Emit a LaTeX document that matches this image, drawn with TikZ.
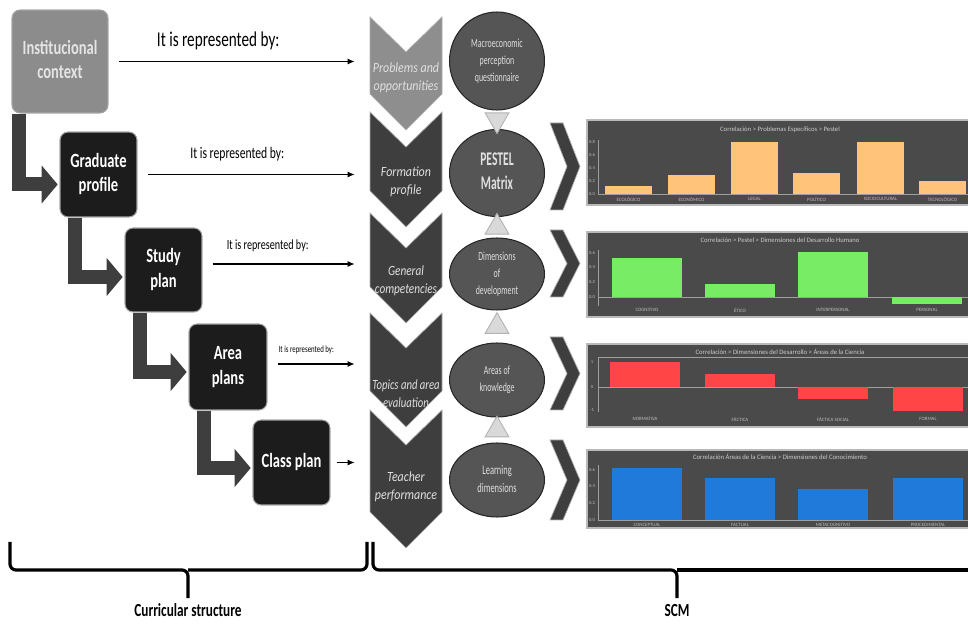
\documentclass[tikz,border=0pt]{standalone}
\usepackage{fontspec}
\setmainfont{Carlito}
\usepackage{graphicx}
\usetikzlibrary{shapes.geometric, arrows.meta, positioning, calc}
\tikzset{>={Stealth}}

\definecolor{boxdark}{HTML}{1C1C1C}
\definecolor{boxgray}{HTML}{8C8C8C}
\definecolor{chevdark}{HTML}{3E3E3E}
\definecolor{chevlight}{HTML}{8E8E8E}
\definecolor{ellfill}{HTML}{555555}
\definecolor{chartbg}{HTML}{4A4A4A}
\definecolor{barorange}{HTML}{FFC47A}
\definecolor{bargreen}{HTML}{79EC66}
\definecolor{barred}{HTML}{FF4545}
\definecolor{barblue}{HTML}{1F7AD9}

% squeezed text, the original lettering is very narrow
\newcommand{\condtext}[2][.72]{\scalebox{#1}[1]{\begin{tabular}{@{}c@{}}#2\end{tabular}}}

\begin{document}
\begin{tikzpicture}[
  x=0.02cm, y=-0.02cm,
  box/.style={rectangle, rounded corners=0.16cm, fill=boxdark, draw=gray!70, line width=0.6pt,
    text=white, inner sep=0pt, font=\fontsize{11.5}{14}\selectfont\bfseries},
  chevtext/.style={minimum width=1.44cm, inner sep=0pt, text=white!88!black,
    font=\fontsize{8}{10.5}\selectfont\itshape},
  ell/.style={ellipse, fill=ellfill, draw=black!85, line width=0.6pt, minimum width=1.9cm,
    inner sep=0pt, text=white!88!black, font=\fontsize{7}{9.5}\selectfont},
  repr/.style={->, >={Latex[length=4pt,width=3.5pt]}, line width=0.7pt, shorten <=0.2cm, shorten >=0.3cm},
  reprlabel/.style={inner sep=0pt},
  larrow/.style={-{Triangle[length=0.32cm,width=0.74cm]}, line width=0.28cm, draw=chevdark, shorten >=1pt},
  link/.style={regular polygon, regular polygon sides=3, minimum size=0.55cm, inner sep=0pt,
    fill=gray!30, draw=gray!60, line width=0.5pt},
  chartbox/.style={fill=chartbg, draw=gray!55, line width=1pt},
  axisline/.style={draw=gray!75, line width=0.3pt},
  charttitle/.style={inner sep=0pt, text=white!80!black, font=\fontsize{3.8}{4}\selectfont},
  catlabel/.style={inner sep=0pt, text=white!75!black, font=\fontsize{2.8}{3}\selectfont},
  ticklabel/.style={inner sep=0pt, text=white!75!black, font=\fontsize{2.6}{3}\selectfont},
  bracket/.style={line width=1.8pt, rounded corners=0.12cm},
  bottomlabel/.style={inner sep=0pt, font=\fontsize{10.5}{12}\selectfont\bfseries}
]
  \useasboundingbox (0,0) rectangle (968,628);

  % Curricular structure boxes
  \node[box, fill=boxgray, text=white!90!black, minimum width=1.92cm, minimum height=2.06cm] (inst) at (60,61.5) {\condtext{Institucional\\context}};
  \node[box, minimum width=1.54cm, minimum height=1.7cm] (grad) at (98.5,174.5) {\condtext{Graduate\\profile}};
  \node[box, minimum width=1.54cm, minimum height=1.68cm] (study) at (163.5,270) {\condtext{Study\\plan}};
  \node[box, minimum width=1.56cm, minimum height=1.72cm] (area) at (228,367) {\condtext{Area\\plans}};
  \node[box, minimum width=1.54cm, minimum height=1.7cm] (class) at (291.5,462.5) {\condtext{Class plan}};

  % L-shaped arrows down the staircase
  \draw[larrow] ([xshift=0.16cm]inst.south west) |- ([yshift=-0.2cm]grad.west);
  \draw[larrow] ([xshift=0.31cm]grad.south west) |- ([yshift=-0.14cm]study.west);
  \draw[larrow] ([xshift=0.31cm]study.south west) |- ([yshift=-0.1cm]area.west);
  \draw[larrow] ([xshift=0.31cm]area.south west) |- ([yshift=-0.11cm]class.west);

  % Down chevrons
  \foreach \t/\b/\c in {17/130/chevlight, 112/227/chevdark, 213/323/chevdark, 313/427/chevdark, 410/548/chevdark}
    \filldraw[fill=\c, draw=gray!65, line width=0.4pt] (370,\t) -- (406,\t+35) -- (442,\t) -- (442,\b-36) -- (406,\b) -- (370,\b-36) -- cycle;
  \node[chevtext] (chev1) at (406,78) {\condtext[.85]{Problems and\\opportunities}};
  \node[chevtext] (chev2) at (406,182) {\condtext[.85]{Formation\\profile}};
  \node[chevtext] (chev3) at (406,281) {\condtext[.8]{General\\competencies}};
  \node[chevtext] (chev4) at (406,395) {\condtext[.76]{Topics and area\\evaluation}};
  \node[chevtext] (chev5) at (406,487) {\condtext[.85]{Teacher\\performance}};

  % It is represented by
  \draw[repr] (inst.east) -- node[reprlabel, pos=0.42, above=0.14cm, font=\fontsize{12}{14}\selectfont] (rep1) {\condtext{It is represented by:}} (inst.east -| chev1.west);
  \draw[repr] (grad.east) -- node[reprlabel, pos=0.43, above=0.2cm, font=\fontsize{9.2}{11}\selectfont] (rep2) {\condtext{It is represented by:}} (grad.east -| chev2.west);
  \draw[repr] ([yshift=0.12cm]study.east) -- node[reprlabel, pos=0.39, above=0.18cm, font=\fontsize{8}{10}\selectfont] (rep3) {\condtext{It is represented by:}} ([yshift=0.12cm]study.east -| chev3.west);
  \draw[repr] ([yshift=0.06cm]area.east) -- node[reprlabel, pos=0.38, above=0.16cm, font=\fontsize{5.4}{6}\selectfont] (rep4) {\condtext{It is represented by:}} ([yshift=0.06cm]area.east -| chev4.west);
  \draw[repr, shorten <=0.12cm] (class.east) -- (class.east -| chev5.west);

  % SCM ellipses
  \node[ell, minimum height=1.96cm] (ell1) at (497,61) {\condtext[.64]{Macroeconomic\\perception\\questionnaire}};
  \node[ell, minimum height=1.74cm, font=\fontsize{11}{13.5}\selectfont\bfseries] (ell2) at (497,173) {\condtext[.6]{PESTEL\\Matrix}};
  \node[ell, minimum height=1.44cm] (ell3) at (497,274) {\condtext[.64]{Dimensions\\of\\development}};
  \node[ell, minimum height=1.48cm] (ell4) at (497,380) {\condtext[.64]{Areas of\\knowledge}};
  \node[ell, minimum height=1.48cm, font=\fontsize{7.5}{10}\selectfont] (ell5) at (497,480) {\condtext[.64]{Learning\\dimensions}};

  % Links between ellipses
  \node[link, rotate=180] (lk1) at ($(ell1.south)!0.5!(ell2.north)$) {};
  \node[link] (lk2) at ($(ell2.south)!0.5!(ell3.north)$) {};
  \node[link] (lk3) at ($(ell3.south)!0.5!(ell4.north)$) {};
  \node[link] (lk4) at ($(ell4.south)!0.5!(ell5.north)$) {};

  % Right chevrons
  \foreach \a/\b in {123/210, 230/297, 337/410, 440/520}
    \filldraw[fill=chevdark, draw=gray!60, line width=0.4pt] (550,\a) -- (563,\a) -- (580,{(\a+\b)/2}) -- (563,\b) -- (550,\b) -- (567,{(\a+\b)/2}) -- cycle;

  % Chart 1
  \filldraw[chartbox] (587,120) rectangle (972,205);
  \node[charttitle] (title1) at (780,130) {Correlación > Problemas Específicos > Pestel};
  \draw[axisline] (598,140) -- (598,194) -- (968,194);
  \foreach \y/\v [count=\i] in {194/0.0, 181/0.2, 168/0.4, 155/0.6, 142/0.8}
    \node[ticklabel] (ya\i) at (592,\y) {\v};
  \foreach \x/\h/\n [count=\i] in {605/186/ECOLÓGICO, 668/175/ECONÓMICO, 731/142/LEGAL, 793/173/POLÍTICO, 857/142/SOCIOCULTURAL, 919/181/TECNOLÓGICO}{
    \fill[barorange] (\x,194) rectangle (\x+47,\h);
    \node[catlabel] (ca\i) at (\x+23.5,199) {\n};
  }

  % Chart 2
  \filldraw[chartbox] (587,232) rectangle (972,317);
  \node[charttitle] (title2) at (780,240) {Correlación > Pestel > Dimensiones del Desarrollo Humano};
  \draw[axisline] (598,250) -- (598,306) (598,297) -- (968,297);
  \foreach \y/\v [count=\i] in {297/0.0, 282/0.2, 267/0.4, 253/0.6}
    \node[ticklabel] (yb\i) at (592,\y) {\v};
  \foreach \x/\h/\n [count=\i] in {612/258/COGNITIVO, 705/284/ÉTICO, 798/252/INTERPERSONAL, 892/304/PERSONAL}{
    \fill[bargreen] (\x,297) rectangle (\x+70,\h);
    \node[catlabel] (cb\i) at (\x+35,310) {\n};
  }

  % Chart 3
  \filldraw[chartbox] (587,344) rectangle (972,427);
  \node[charttitle] (title3) at (780,352) {Correlación > Dimensiones del Desarrollo > Áreas de la Ciencia};
  \draw[axisline] (598,357) -- (968,357) (598,357) -- (598,412) (598,387) -- (968,387);
  \foreach \y/\v [count=\i] in {362/1, 387/0, 410/-1}
    \node[ticklabel] (yc\i) at (592,\y) {\v};
  \foreach \x/\h/\n [count=\i] in {610/362/NORMATIVA, 705/374/FÁCTICA, 798/399/FÁCTICA SOCIAL, 893/411/FORMAL}{
    \fill[barred] (\x,387) rectangle (\x+70,\h);
    \node[catlabel] (cc\i) at (\x+35,419) {\n};
  }

  % Chart 4
  \filldraw[chartbox] (587,450) rectangle (972,528);
  \node[charttitle] (title4) at (780,457) {Correlación Áreas de la Ciencia > Dimensiones del Conocimiento};
  \draw[axisline] (598,465) -- (598,520) -- (968,520);
  \foreach \y/\v [count=\i] in {520/0.0, 503/0.2, 486/0.4, 470/0.6}
    \node[ticklabel] (yd\i) at (592,\y) {\v};
  \foreach \x/\h/\n [count=\i] in {612/468/CONCEPTUAL, 705/478/FACTUAL, 798/489/METACOGNITIVO, 893/478/PROCEDIMENTAL}{
    \fill[barblue] (\x,520) rectangle (\x+70,\h);
    \node[catlabel] (cd\i) at (\x+35,525) {\n};
  }

  % Bottom braces
  \draw[bracket] (10,542) |- (188,570) -- (188,598);
  \draw[bracket] (188,570) -| (367,542);
  \draw[bracket] (373,542) |- (677,570) -- (677,598);
  \draw[bracket] (677,570) -- (975,570);
  \node[bottomlabel] (cs) at (188,612) {\condtext{Curricular structure}};
  \node[bottomlabel] (scm) at (677,612) {\condtext{SCM}};
\end{tikzpicture}
\end{document}
